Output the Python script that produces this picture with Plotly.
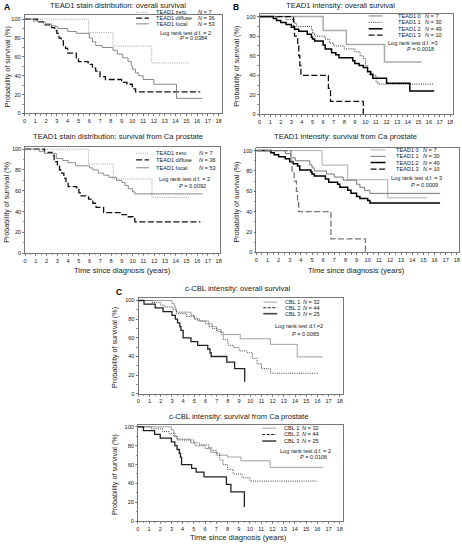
import plotly.graph_objects as go

W, H = 462, 545
FONT = "Liberation Sans, Arial, sans-serif"

# ---------------- DATA ----------------
# Panel A top: TEAD1 stain distribution, overall survival
a_os_zero_t = [0, 5.95, 8.2, 11.8, 15.3]
a_os_zero_s = [100, 85.7, 71.4, 53.6, 53.6]
a_os_diffuse_t = [0, 1.2, 1.75, 2.5, 2.8, 3.0, 3.2, 3.4, 3.6, 3.8, 4.0, 4.8, 5.0, 5.9, 6.3, 6.6, 7.0, 7.5, 9.0, 9.5, 10.0, 10.3, 16.3]
a_os_diffuse_s = [100, 97, 94, 91, 88, 85, 80, 77, 72, 69, 64, 58, 55, 52, 48, 45, 39, 36, 33, 31, 26, 23, 23]
a_os_focal_t = [0, 0.8, 1.3, 1.95, 2.5, 2.9, 3.1, 4.0, 4.8, 6.0, 6.3, 6.6, 7.2, 8.2, 8.6, 9.1, 9.6, 9.9, 10.0, 10.3, 10.6, 11.0, 12.0, 14.1, 16.5]
a_os_focal_s = [100, 98, 96.5, 95, 93, 92, 90, 87, 85, 80, 76, 72, 70, 67, 63, 59, 55, 51, 47, 43, 40, 36, 31, 16, 16]

# Panel A bottom: TEAD1 stain distribution, survival from Ca prostate
a_ca_zero_t = [0, 5.9, 8.2, 11.8, 15.3]
a_ca_zero_s = [100, 85.7, 71.4, 53.6, 53.6]
a_ca_diffuse_t = [0, 1.8, 2.5, 2.7, 3.0, 3.2, 3.4, 3.6, 3.8, 4.0, 4.8, 5.0, 5.2, 5.9, 6.3, 6.6, 7.3, 9.0, 9.6, 10.2, 16.3]
a_ca_diffuse_s = [100, 97, 94, 88, 84, 80, 77, 72, 68, 64, 61, 58, 55, 52, 48, 44, 39, 37, 35, 30, 30]
a_ca_focal_t = [0, 1.3, 1.8, 2.9, 3.5, 4.0, 4.7, 6.0, 6.3, 6.8, 7.3, 7.8, 8.5, 9.0, 9.3, 9.6, 10.0, 10.2, 16.5]
a_ca_focal_s = [100, 98, 96, 91, 89, 87, 84, 82, 80, 77, 75, 73, 70, 68, 65, 62, 59, 57, 57]

# Panel B top: TEAD1 intensity, overall survival
b_os_0_t = [0, 6.0, 8.2, 11.8, 15.3]
b_os_0_s = [100, 85.7, 71.4, 53.6, 53.6]
b_os_1_t = [0, 2.5, 3.3, 3.5, 4.9, 5.0, 5.2, 6.2, 6.6, 7.0, 8.0, 9.0, 9.5, 9.8, 10.0, 10.2, 10.4, 11.0, 11.2, 16.5]
b_os_1_s = [100, 97, 93, 90, 87, 83, 80, 77, 73, 70, 67, 64, 60, 57, 50, 43, 40, 33, 31, 31]
b_os_2_t = [0, 1.3, 1.6, 2.0, 2.5, 3.0, 3.3, 3.7, 4.5, 4.9, 5.0, 5.2, 6.0, 6.2, 6.8, 7.2, 7.5, 8.8, 9.0, 9.4, 9.8, 10.2, 10.5, 10.7, 12.0, 14.2, 16.5]
b_os_2_s = [100, 98, 96, 94, 92, 89, 87, 85, 82, 79, 77, 75, 71, 67, 63, 61, 58, 55, 52, 50, 48, 44, 41, 37, 32, 24, 24]
b_os_3_t = [0, 3.2, 3.3, 3.6, 3.7, 3.8, 3.9, 6.5, 6.7, 9.8]
b_os_3_s = [100, 90, 80, 70, 60, 50, 40, 26.7, 13.3, 0]

# Panel B bottom: TEAD1 intensity, survival from Ca prostate
b_ca_0_t = [0, 5.9, 8.2, 11.8, 15.3]
b_ca_0_s = [100, 85.7, 71.4, 53.6, 53.6]
b_ca_1_t = [0, 2.6, 3.1, 3.5, 4.8, 5.0, 5.2, 6.3, 7.0, 7.8, 9.0, 9.3, 9.7, 10.2, 16.5]
b_ca_1_s = [100, 97, 93, 90, 86, 83, 80, 77, 74, 71, 67, 64, 61, 58, 58]
b_ca_2_t = [0, 1.3, 1.6, 2.0, 2.6, 3.0, 3.3, 3.7, 3.9, 4.9, 5.0, 5.2, 6.2, 6.5, 7.3, 7.5, 8.2, 8.5, 9.0, 9.3, 10.0, 10.2, 16.5]
b_ca_2_s = [100, 98, 96, 94, 92, 89, 87, 85, 81, 79, 77, 75, 72, 69, 67, 64, 61, 58, 55, 53, 51, 48.5, 48.5]
b_ca_3_t = [0, 3.1, 3.2, 3.4, 3.6, 3.7, 3.8, 6.7, 9.8]
b_ca_3_s = [100, 90, 80, 70, 60, 50, 40, 13.3, 0]

# Panel C top: c-CBL intensity, overall survival
c_os_1_t = [0, 3.0, 3.2, 3.3, 3.4, 4.7, 5.0, 5.3, 6.3, 6.6, 7.0, 7.4, 7.6, 9.1, 11.8, 14.2, 16.5]
c_os_1_s = [100, 97, 94, 91, 87.5, 84, 81, 78, 75, 72, 69, 66, 63.5, 59, 53, 39.5, 39.5]
c_os_2_t = [0, 1.2, 2.0, 2.3, 3.1, 3.4, 4.3, 5.0, 5.5, 6.0, 6.3, 6.6, 7.0, 7.4, 7.6, 8.0, 8.5, 9.0, 9.7, 10.2, 10.6, 11.0, 11.8, 16.0]
c_os_2_s = [100, 98, 95, 93, 90, 86, 83, 80, 78, 75, 72, 70, 67, 63, 58, 52, 49.5, 46, 44, 38, 32, 27, 22, 22]
c_os_3_t = [0, 0.5, 1.5, 2.2, 3.0, 3.3, 3.5, 3.7, 3.8, 4.0, 4.7, 5.3, 6.2, 6.4, 6.5, 7.9, 8.6, 9.5]
c_os_3_s = [100, 96, 92, 88, 84, 80, 76, 72, 68, 60, 56, 52, 48, 44, 40, 34, 27, 13]

# Panel C bottom: c-CBL intensity, survival from Ca prostate
c_ca_1_t = [0, 3.0, 3.2, 3.3, 3.5, 4.7, 5.1, 6.0, 6.5, 7.0, 8.0, 9.2, 11.8, 16.5]
c_ca_1_s = [100, 97, 94, 90, 87, 83, 80, 77, 73, 70, 68, 64, 57, 57]
c_ca_2_t = [0, 1.2, 2.2, 2.8, 3.2, 3.5, 5.0, 5.5, 6.3, 6.6, 7.0, 7.3, 7.6, 8.0, 8.5, 9.3, 10.0, 16.0]
c_ca_2_s = [100, 98, 95, 93, 90, 86, 83, 81, 78, 75, 72, 65, 60, 55, 50, 46, 42.5, 42.5]
c_ca_3_t = [0, 0.5, 1.5, 2.0, 3.0, 3.3, 3.5, 3.7, 3.8, 3.9, 4.8, 5.2, 5.9, 7.9, 8.3, 9.5]
c_ca_3_s = [100, 96, 92, 88, 84, 80, 76, 72, 68, 60, 56, 52, 47, 39, 31, 15]

x_ticks = list(range(0, 19))
y_ticks = [0, 20, 40, 60, 80, 100]

titles = [
    "TEAD1 stain distribution: overall survival",
    "TEAD1 stain distribution: survival from Ca prostate",
    "TEAD1 intensity: overall survival",
    "TEAD1 intensity: survival from Ca prostate",
    "c-CBL intensity: overall survival",
    "c-CBL intensity: survival from Ca prostate",
]
logrank = [
    ("Log rank test d.f. = 2", "<i>P</i> = 0.0384"),
    ("Log rank test d.f. = 2", "<i>P</i> = 0.0092"),
    ("Log rank test d.f. =3", "<i>P</i> = 0.0018"),
    ("Log rank test d.f. = 3", "<i>P</i> = 0.0009"),
    ("Log rank test d.f.=2", "<i>P</i> = 0.0065"),
    ("Log rank test d.f. = 2", "<i>P</i> = 0.0106"),
]
a_names = ["TEAD1 zero", "TEAD1 diffuse", "TEAD1 focal"]
a_n = [7, 36, 53]
b_names = ["TEAD1 0", "TEAD1 1", "TEAD1 2", "TEAD1 3"]
b_n = [7, 30, 49, 10]
c_names = ["CBL 1", "CBL 2", "CBL 3"]
c_n = [32, 44, 25]

# --------------- STYLES / LAYOUT ---------------
DOT = "1px,1.2px"
DASH = "6px,2.5px"
A_STY = [dict(color="#a0a0a0", dash=DOT, width=1.0),
         dict(color="#111111", dash=DASH, width=1.3),
         dict(color="#888888", dash="solid", width=1.0)]
B1_STY = [dict(color="#aaaaaa", dash="solid", width=1.5),
          dict(color="#333333", dash=DOT, width=1.0),
          dict(color="#000000", dash="solid", width=1.5),
          dict(color="#111111", dash=DASH, width=1.3)]
B2_STY = [dict(color="#999999", dash="solid", width=0.8),
          dict(color="#555555", dash="solid", width=0.8),
          dict(color="#000000", dash="solid", width=1.5),
          dict(color="#777777", dash=DASH, width=1.3)]
B2_LEG = [B2_STY[0], B2_STY[1], B2_STY[2], dict(color="#111111", dash=DASH, width=1.3)]
C_STY = [dict(color="#888888", dash="solid", width=0.8),
         dict(color="#444444", dash=DOT, width=1.0),
         dict(color="#222222", dash="solid", width=1.3)]
C_LEG = [C_STY[0], dict(color="#222222", dash="3px,1.5px", width=1.2), dict(color="#444444", dash="solid", width=1.6)]

# panel boxes in pixels: left, right, top, bottom, px per year, px per %
panels = [
    dict(l=22.7, r=221.8, t=14.3, b=113.3, ppy=10.85, ppp=0.95),
    dict(l=23.3, r=220.0, t=146.7, b=254.0, ppy=10.82, ppp=1.047),
    dict(l=259.3, r=453.7, t=13.3, b=114.3, ppy=10.65, ppp=0.986),
    dict(l=256.0, r=460.0, t=147.7, b=253.3, ppy=11.21, ppp=1.026),
    dict(l=137.3, r=343.0, t=299.0, b=395.7, ppy=11.26, ppp=0.94),
    dict(l=136.7, r=343.0, t=426.7, b=524.0, ppy=11.29, ppp=0.95),
]

series = [
    [(a_os_zero_t, a_os_zero_s), (a_os_diffuse_t, a_os_diffuse_s), (a_os_focal_t, a_os_focal_s)],
    [(a_ca_zero_t, a_ca_zero_s), (a_ca_diffuse_t, a_ca_diffuse_s), (a_ca_focal_t, a_ca_focal_s)],
    [(b_os_0_t, b_os_0_s), (b_os_1_t, b_os_1_s), (b_os_2_t, b_os_2_s), (b_os_3_t, b_os_3_s)],
    [(b_ca_0_t, b_ca_0_s), (b_ca_1_t, b_ca_1_s), (b_ca_2_t, b_ca_2_s), (b_ca_3_t, b_ca_3_s)],
    [(c_os_1_t, c_os_1_s), (c_os_2_t, c_os_2_s), (c_os_3_t, c_os_3_s)],
    [(c_ca_1_t, c_ca_1_s), (c_ca_2_t, c_ca_2_s), (c_ca_3_t, c_ca_3_s)],
]
styles = [A_STY, A_STY, B1_STY, B2_STY, C_STY, C_STY]
leg_styles = [A_STY, A_STY, B1_STY, B2_LEG, C_LEG, C_LEG]
leg_names = [a_names, a_names, b_names, b_names, c_names, c_names]
leg_ns = [a_n, a_n, b_n, b_n, c_n, c_n]

# legend positions: line x0, x1, text x, N x, row ys, logrank right x, y1, y2
legpos = [
    dict(lx0=135, lx1=148, tx=153, nx=195, ys=[11.5, 17.3, 23.0], lrx=212, lry=[32, 37.5]),
    dict(lx0=135, lx1=148, tx=153, nx=196, ys=[153.3, 160.0, 168.0], lrx=211, lry=[179.5, 186.5]),
    dict(lx0=369, lx1=383, tx=397, nx=424, ys=[15.0, 21.5, 28.0, 34.3], lrx=441, lry=[42.3, 48.3]),
    dict(lx0=371, lx1=386, tx=395, nx=422, ys=[150.0, 156.5, 162.7, 169.3], lrx=445, lry=[178.3, 185.0]),
    dict(lx0=263, lx1=277, tx=283, nx=301, ys=[303.3, 309.0, 315.0], lrx=325, lry=[327.5, 335.0]),
    dict(lx0=262, lx1=276, tx=282, nx=300, ys=[430.3, 436.7, 443.3], lrx=333, lry=[453.3, 459.3]),
]
title_pos = [(117, 5), (117, 137), (341, 5), (346, 137), (238, 290), (238, 419)]
ytitle_x = [5, 5, 236, 236, 114, 114]

LEG_FS = 5.6
TXT = "#1a1a1a"

def px(x):
    return x / W

def py(y):
    return 1 - y / H

def ann(x, y, text, size, xanchor="center", color=TXT, **kw):
    return dict(x=px(x), y=py(y), xref="paper", yref="paper", text=text, showarrow=False,
                xanchor=xanchor, yanchor="middle",
                font=dict(size=size, family=FONT, color=color), **kw)

fig = go.Figure()
annotations = []
shapes = []
layout = {}

for i, p in enumerate(panels):
    k = "" if i == 0 else str(i + 1)
    xa, ya = "x" + k, "y" + k
    xmax = (p["r"] - p["l"]) / p["ppy"]
    ymax = (p["b"] - p["t"]) / p["ppp"]
    axcommon = dict(showgrid=False, zeroline=False, showline=True, mirror=True,
                    linecolor="#555555", linewidth=0.8, ticks="outside", ticklen=2,
                    tickwidth=0.6, tickcolor="#555555",
                    tickfont=dict(size=5.6, family=FONT, color=TXT))
    layout["xaxis" + k] = dict(axcommon, domain=[px(p["l"]), px(p["r"])], range=[0, xmax],
                               tickvals=x_ticks, anchor=ya,
                               minor=dict(ticks="outside", ticklen=1.5, dtick=0.5, tickcolor="#555"))
    layout["yaxis" + k] = dict(axcommon, domain=[py(p["b"]), py(p["t"])], range=[0, ymax],
                               tickvals=y_ticks, anchor=xa,
                               minor=dict(ticks="outside", ticklen=1.5, dtick=10, tickcolor="#555"))
    for (t, s), sty in zip(series[i], styles[i]):
        fig.add_trace(go.Scatter(x=t, y=s, mode="lines", line=dict(shape="hv", **sty),
                                 xaxis=xa, yaxis=ya, showlegend=False, hoverinfo="skip"))
    tx, ty = title_pos[i]
    annotations.append(ann(tx, ty, titles[i], 7.6))
    annotations.append(ann(ytitle_x[i], (p["t"] + p["b"]) / 2 + 2, "Probability of survival (%)", 7.2,
                           textangle=-90))
    lp = legpos[i]
    for name, n, sty, yy in zip(leg_names[i], leg_ns[i], leg_styles[i], lp["ys"]):
        shapes.append(dict(type="line", xref="paper", yref="paper", x0=px(lp["lx0"]), x1=px(lp["lx1"]),
                           y0=py(yy), y1=py(yy),
                           line=dict(color=sty["color"], dash=sty["dash"], width=sty["width"])))
        annotations.append(ann(lp["tx"], yy, name, LEG_FS, xanchor="left"))
        annotations.append(ann(lp["nx"], yy, "<i>N</i> = %d" % n, LEG_FS, xanchor="left"))
    lr1, lr2 = logrank[i]
    annotations.append(ann(lp["lrx"], lp["lry"][0], lr1, LEG_FS, xanchor="right"))
    annotations.append(ann(lp["lrx"] - 4, lp["lry"][1], lr2, LEG_FS, xanchor="right"))

for xc, yc in [(121, 271), (357, 271), (238, 540)]:
    annotations.append(ann(xc, yc, "Time since diagnosis (years)", 7.6))
for lab, xc, yc in [("A", 5, 6), ("B", 236, 6), ("C", 118, 293)]:
    annotations.append(ann(xc, yc, "<b>%s</b>" % lab, 8.5, color="#000"))

fig.update_layout(width=W, height=H, autosize=False, margin=dict(l=0, r=0, t=0, b=0),
                  paper_bgcolor="white", plot_bgcolor="white", showlegend=False,
                  annotations=annotations, shapes=shapes, **layout)
fig.write_html("out.html", config={"displayModeBar": False, "staticPlot": True},
               post_script="document.body.style.margin='0px';")
